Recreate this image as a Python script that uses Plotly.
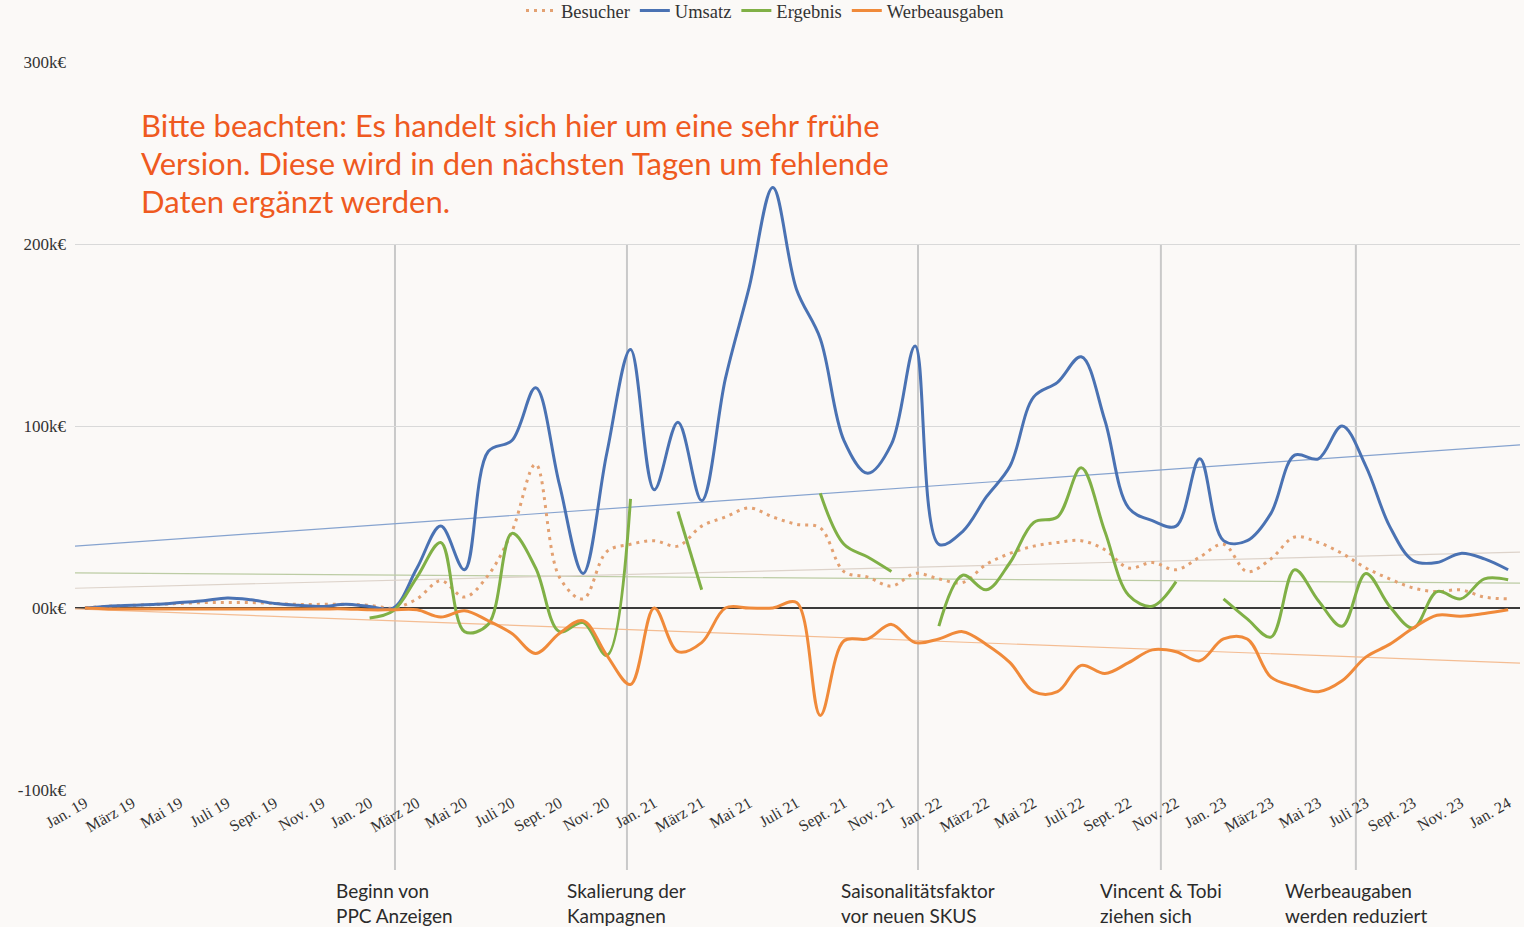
import plotly.graph_objects as go

# ---------------- data (k€ / index units) ----------------
months = ["Jan. 19", "Feb. 19", "März 19", "Apr. 19", "Mai 19", "Juni 19", "Juli 19", "Aug. 19", "Sept. 19", "Okt. 19", "Nov. 19", "Dez. 19",
          "Jan. 20", "Feb. 20", "März 20", "Apr. 20", "Mai 20", "Juni 20", "Juli 20", "Aug. 20", "Sept. 20", "Okt. 20", "Nov. 20", "Dez. 20",
          "Jan. 21", "Feb. 21", "März 21", "Apr. 21", "Mai 21", "Juni 21", "Juli 21", "Aug. 21", "Sept. 21", "Okt. 21", "Nov. 21", "Dez. 21",
          "Jan. 22", "Feb. 22", "März 22", "Apr. 22", "Mai 22", "Juni 22", "Juli 22", "Aug. 22", "Sept. 22", "Okt. 22", "Nov. 22", "Dez. 22",
          "Jan. 23", "Feb. 23", "März 23", "Apr. 23", "Mai 23", "Juni 23", "Juli 23", "Aug. 23", "Sept. 23", "Okt. 23", "Nov. 23", "Dez. 23",
          "Jan. 24"]

umsatz = [0, 1, 1.5, 2, 3, 4, 5.5, 4.5, 2.5, 1.5, 0.8, 2,
          0.8, 0, 22, 45, 21, 86, 92, 121, 68, 19, 85, 142,
          65, 102, 59, 126, 176, 231, 175, 148, 92, 74, 90, 144,
          35, 42, 61, 78, 116, 124, 138, 103, 55, 48, 45, 82,
          37, 37, 52, 84, 82, 100, 78, 45, 26, 25, 30, 27,
          21]

besucher = [0, 1, 1.5, 2, 2.5, 3, 3, 3, 2.5, 2, 2, 2,
            1.5, 0, 5, 15, 6, 18, 42, 79, 17, 5, 31, 35,
            37, 34, 45, 50, 55, 50, 46, 44, 20, 17, 12, 19,
            16, 14, 24, 30, 34, 36, 37, 32, 22, 25, 21, 28,
            35, 20, 27, 39, 36, 30, 22, 16, 11, 9, 10, 6,
            5]

ergebnis = [None, None, None, None, None, None, None, None, None, None, None, None,
            -5.5, -1.5, 17, 36, -13, -9, 41, 22, -13, -8, -26, 60,
            None, 53, 10, None, None, None, None, 63, 35, 28, 20, None,
            -10, 18, 10, 25, 47, 50, 77, 42, 7, 1, 14.5, None,
            5, -6, -16, 21, 4, -10, 19, 1, -11, 9, 5, 16,
            15.5]

werbeausgaben = [0, -0.5, -0.5, -0.5, -0.5, -0.5, -0.5, -0.5, -0.5, -0.5, -0.5, -0.5,
                 -1, -1, -1, -5, -1.5, -7, -14, -25, -14, -7, -26, -42,
                 0, -24, -19, 0, 0, 0, 3, -59, -18, -17, -9, -19,
                 -17, -13, -20, -30, -46, -46, -31.5, -36, -30, -23, -24, -29,
                 -17, -17, -38, -43, -46, -40, -27, -20, -11, -4, -4.5, -3,
                 -1]

# linear trend lines: value at first and last month (Jan. 19 / Jan. 24)
trend_umsatz = [34.4, 89.2]
trend_ergebnis = [19.3, 13.7]
trend_besucher = [11.0, 30.5]
trend_werbe = [-0.7, -30.0]

y_ticks = [-100, 0, 100, 200, 300]
y_ticktext = ["-100k€", "00k€", "100k€", "200k€", "300k€"]

events = ["Beginn von<br>PPC Anzeigen", "Skalierung der<br>Kampagnen",
          "Saisonalitätsfaktor<br>vor neuen SKUS", "Vincent &amp; Tobi<br>ziehen sich",
          "Werbeaugaben<br>werden reduziert"]
event_pos = [13.07, 22.85, 35.12, 45.36, 53.58]

note_lines = ["Bitte beachten: Es handelt sich hier um eine sehr frühe",
              "Version. Diese wird in den nächsten Tagen um fehlende",
              "Daten ergänzt werden."]

# ---------------- figure ----------------
idx = list(range(len(months)))
n_last = len(months) - 1
x_range = [-0.42, 60.5]


def extend(tr):
    # extend the linear trend across the whole plotting range
    slope = (tr[1] - tr[0]) / n_last
    return [tr[0] + slope * x_range[0], tr[0] + slope * x_range[1]]


C_BLUE = "#4a72b3"
C_GREEN = "#80b046"
C_ORANGE = "#f08a3a"
C_DOT = "#e3a172"

fig = go.Figure()

for tr, col in [(trend_umsatz, "#86a3cf"), (trend_ergebnis, "#bccca4"),
                (trend_besucher, "#ddd3ca"), (trend_werbe, "#f4bd93")]:
    fig.add_trace(go.Scatter(x=x_range, y=extend(tr), mode="lines", showlegend=False, hoverinfo="skip",
                             line=dict(color=col, width=1.2)))

fig.add_trace(go.Scatter(x=idx, y=besucher, name="Besucher", mode="lines",
                         line=dict(color=C_DOT, width=3, dash="3px,5px", shape="spline", smoothing=1.0)))
fig.add_trace(go.Scatter(x=idx, y=umsatz, name="Umsatz", mode="lines",
                         line=dict(color=C_BLUE, width=3, shape="spline", smoothing=1.0)))
fig.add_trace(go.Scatter(x=idx, y=ergebnis, name="Ergebnis", mode="lines", connectgaps=False,
                         line=dict(color=C_GREEN, width=3, shape="spline", smoothing=1.0)))
fig.add_trace(go.Scatter(x=idx, y=werbeausgaben, name="Werbeausgaben", mode="lines",
                         line=dict(color=C_ORANGE, width=3, shape="spline", smoothing=1.0)))

for p, t in zip(event_pos, events):
    fig.add_shape(type="line", xref="x", yref="paper", x0=p, x1=p, y0=-0.11, y1=0.75,
                  line=dict(color="#c9c9c9", width=2), layer="below")
    fig.add_annotation(x=p, xref="x", y=-0.119, yref="paper", text=t, showarrow=False,
                       xanchor="center", yanchor="top", align="left",
                       font=dict(family="Lato", size=19, color="#2b2b2b"))

# note lines: pixel centres 125, 163, 201 -> paper coords
for i, line in enumerate(note_lines):
    ypix = 125 + 38 * i
    fig.add_annotation(x=(139 - 75) / 1445, xref="paper", y=(790 - ypix) / 728, yref="paper",
                       text=line, showarrow=False, xanchor="left", yanchor="middle", align="left",
                       font=dict(family="Lato", size=31, color="#ef5a1f"))

fig.update_layout(
    width=1524, height=927,
    margin=dict(l=75, r=4, t=62, b=137, autoexpand=False),
    paper_bgcolor="#fbf9f7", plot_bgcolor="#fbf9f7",
    font=dict(family="Liberation Serif", size=16, color="#333333"),
    legend=dict(orientation="h", xref="container", x=765 / 1524, xanchor="center",
                yref="container", y=1 - 11 / 927, yanchor="middle",
                font=dict(family="Liberation Serif", size=18.5, color="#333333"),
                itemwidth=30, bgcolor="rgba(0,0,0,0)"),
    showlegend=True,
)

fig.update_xaxes(range=x_range, tickmode="array",
                 tickvals=idx[::2], ticktext=months[::2], tickangle=-30,
                 showgrid=False, zeroline=False, showline=False,
                 tickfont=dict(family="Liberation Serif", size=16, color="#333333"))
fig.update_yaxes(range=[-100, 300], tickmode="array", tickvals=y_ticks, ticktext=y_ticktext,
                 showgrid=True, gridcolor="#d9d9d9", gridwidth=1,
                 zeroline=True, zerolinecolor="#3a3a3a", zerolinewidth=1.5,
                 showline=False, ticklabelstandoff=8,
                 tickfont=dict(family="Liberation Serif", size=17, color="#333333"))

fig.write_html("out.html", config={"displayModeBar": False},
               post_script="document.body.style.margin='0';document.body.style.padding='0';"
                           "document.body.style.overflow='hidden';")
